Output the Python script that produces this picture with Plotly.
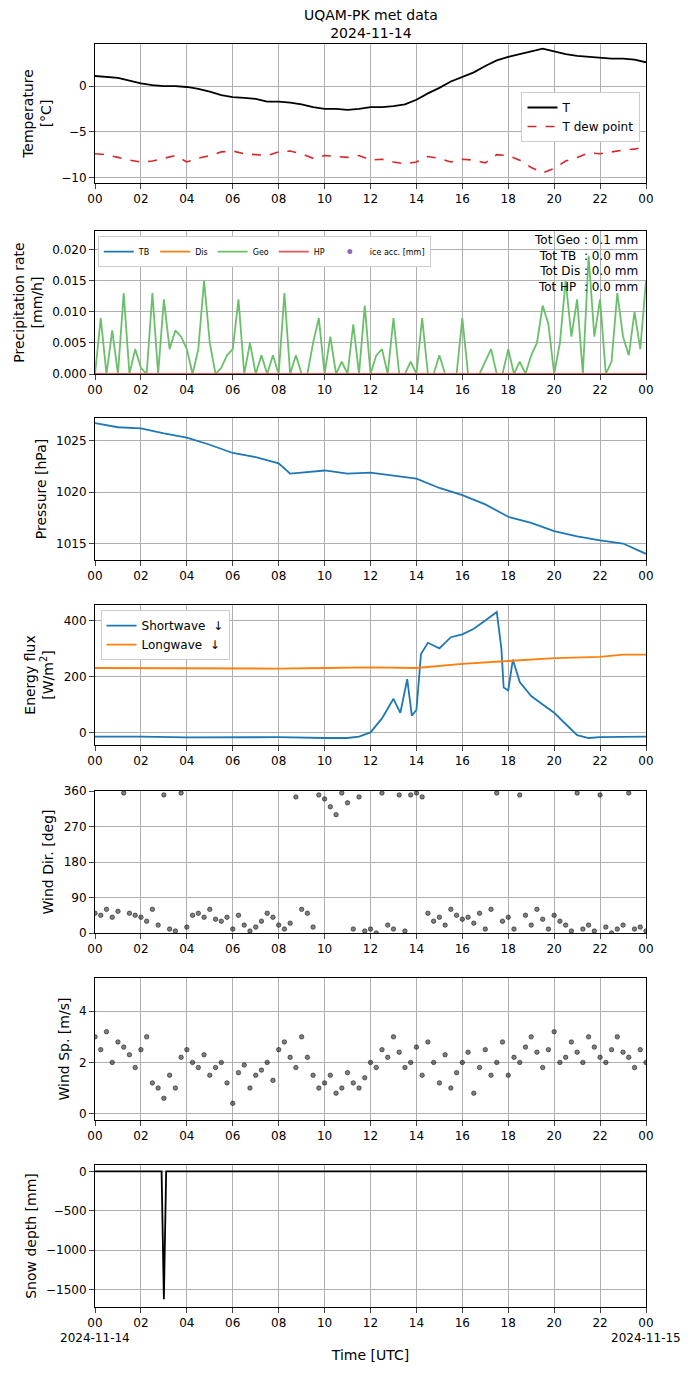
import plotly.graph_objects as go

# ---- data ----
t_half = [i*0.5 for i in range(49)]
temp = [1.1,1.0,0.9,0.6,0.3,0.1,0.0,0.0,-0.1,-0.3,-0.6,-1.0,-1.2,-1.3,-1.4,-1.7,-1.7,-1.8,-2.0,-2.3,-2.5,-2.5,-2.6,-2.5,-2.3,-2.3,-2.2,-2.0,-1.5,-0.8,-0.2,0.5,1.0,1.5,2.2,2.8,3.2,3.5,3.8,4.1,3.8,3.5,3.3,3.2,3.1,3.0,3.0,2.9,2.6]
tdew = [-7.4,-7.5,-7.8,-8.1,-8.3,-8.2,-7.9,-7.6,-8.3,-7.9,-7.6,-7.2,-7.1,-7.4,-7.5,-7.6,-7.2,-7.1,-7.4,-7.9,-7.6,-7.7,-7.8,-7.6,-8.1,-8.0,-8.3,-8.5,-8.3,-7.7,-7.9,-8.3,-8.0,-8.1,-8.4,-7.5,-7.6,-8.1,-8.9,-9.5,-9.0,-8.2,-7.8,-7.3,-7.4,-7.2,-7.0,-6.9,-6.6]

t_q = [i*0.25 for i in range(97)]
geo = [0,0.009,0,0.007,0,0.013,0,0.004,0.001,0,0.013,0,0.012,0.004,0.007,0.006,0.004,0,0.004,0.015,0.005,0,0.001,0.003,0.004,0.012,0,0.005,0,0.003,0,0.003,0,0.013,0,0.003,0,0,0.005,0.009,0,0.006,0,0.002,0,0.008,0,0.011,0,0.003,0.004,0,0.009,0,0,0.002,0,0.009,0,0,0.003,0,0,0,0.009,0,0,0,0.002,0.004,0,0,0.004,0,0.002,0,0.003,0.005,0.011,0.008,0,0.005,0.015,0.006,0.012,0,0.019,0.006,0.012,0,0.002,0.013,0.006,0.003,0.010,0.004,0.015]
zero_q = [0]*97

t_p = [0,1,2,3,4,5,6,7,8,8.5,9,10,11,12,13,14,15,16,17,18,19,20,21,22,23,24]
pres = [1026.7,1026.3,1026.2,1025.7,1025.3,1024.6,1023.8,1023.4,1022.8,1021.8,1021.9,1022.1,1021.8,1021.9,1021.6,1021.3,1020.4,1019.7,1018.8,1017.6,1017.0,1016.2,1015.7,1015.3,1015.0,1014.0]

t_sw = [0,2,4,6,8,10,11,11.5,12,12.5,13,13.3,13.6,13.8,14,14.2,14.5,15,15.5,16,16.5,17,17.5,17.7,17.8,18,18.2,18.5,19,19.5,20,20.5,21,21.5,22,24]
sw = [-15,-15,-18,-17,-17,-20,-20,-15,0,50,120,70,190,60,80,280,320,300,340,350,370,400,430,300,160,150,260,180,130,100,70,30,-10,-20,-17,-15]
t_lw = [0,4,8,10,12,14,16,18,20,22,23,24]
lw = [230,228,228,230,232,230,245,255,265,270,278,278]

wdir = [50,45,60,40,55,355,50,45,40,30,60,20,350,10,5,355,15,45,50,40,60,35,30,40,10,45,20,5,15,30,50,40,20,10,25,345,60,50,15,350,340,320,300,355,330,10,345,5,10,0,355,20,10,350,5,350,355,345,50,30,40,20,60,45,35,40,25,50,10,60,355,30,40,10,350,45,20,60,35,10,45,30,20,5,355,10,20,5,350,15,0,10,20,355,10,15,5]
wsp = [3.0,2.5,3.2,2.0,2.8,2.6,2.3,1.8,2.5,3.0,1.2,1.0,0.6,1.5,1.0,2.2,2.5,2.0,1.8,2.3,1.5,1.8,2.0,1.2,0.4,1.6,1.9,1.0,1.5,1.7,2.0,1.3,2.5,2.8,2.2,1.8,3.0,2.2,1.5,1.0,1.2,1.5,0.8,1.0,1.6,1.2,1.0,1.4,2.0,1.8,2.5,2.2,3.0,2.4,1.8,2.0,2.6,1.5,2.8,2.0,1.2,2.3,1.0,1.6,2.0,2.4,0.8,1.8,2.5,1.5,2.0,2.8,1.5,2.2,2.0,2.6,3.0,2.4,1.8,2.5,3.2,2.0,2.2,2.8,2.4,2.0,3.0,2.6,2.2,2.0,2.5,3.0,2.4,2.2,1.8,2.5,2.0]

t_sd = [0,2.9,3.0,3.1,24]
sd = [0,0,-1620,0,0]

hour_ticks = list(range(0,25,2))
hour_labels = ["00","02","04","06","08","10","12","14","16","18","20","22","00"]

# ---- layout ----
H = 1377; W = 696
OFF = 8  # page body offset
MT, MB = 44 - OFF, 70 + OFF
PH = H - MT - MB
tops = [44,231,418,605,791,978,1165]
bots = [183,374,560,745,933,1120,1307]
def fy(y): return 1 - (y - OFF - MT) / PH
def dom(t,b): return [fy(b), fy(t)]

fig = go.Figure()
blk = "black"
fig.add_trace(go.Scatter(x=t_half,y=temp,mode="lines",line=dict(color=blk,width=1.8),name="T",legend="legend"))
fig.add_trace(go.Scatter(x=t_half,y=tdew,mode="lines",line=dict(color="#d62728",width=1.6,dash="dash"),name="T dew point",legend="legend"))
for nm,c,y in [("TB","#1f77b4",zero_q),("Dis","#ff7f0e",zero_q),("Geo","#6abf69",geo),("HP","#e15759",zero_q)]:
    fig.add_trace(go.Scatter(x=t_q,y=y,mode="lines",line=dict(color=c,width=1.8),name=nm,xaxis="x2",yaxis="y2",legend="legend2"))
fig.add_trace(go.Scatter(x=[None],y=[None],mode="markers",marker=dict(color="#9467bd",size=5),name="ice acc. [mm]",xaxis="x2",yaxis="y2",legend="legend2"))
fig.add_trace(go.Scatter(x=t_p,y=pres,mode="lines",line=dict(color="#1f77b4",width=1.8),showlegend=False,xaxis="x3",yaxis="y3"))
fig.add_trace(go.Scatter(x=t_sw,y=sw,mode="lines",line=dict(color="#1f77b4",width=1.8),name="Shortwave  ↓",xaxis="x4",yaxis="y4",legend="legend4"))
fig.add_trace(go.Scatter(x=t_lw,y=lw,mode="lines",line=dict(color="#ff7f0e",width=1.8),name="Longwave  ↓",xaxis="x4",yaxis="y4",legend="legend4"))
fig.add_trace(go.Scatter(x=t_q,y=wdir,mode="markers",marker=dict(color="rgba(0,0,0,0.5)",size=4.5,line=dict(color="black",width=0.5)),showlegend=False,xaxis="x5",yaxis="y5"))
fig.add_trace(go.Scatter(x=t_q,y=wsp,mode="markers",marker=dict(color="rgba(0,0,0,0.5)",size=4.5,line=dict(color="black",width=0.5)),showlegend=False,xaxis="x6",yaxis="y6"))
fig.add_trace(go.Scatter(x=t_sd,y=sd,mode="lines",line=dict(color=blk,width=1.8),showlegend=False,xaxis="x7",yaxis="y7"))

ax = dict(showline=True,mirror=True,linecolor="black",showgrid=True,gridcolor="#b0b0b0",ticks="outside",zeroline=False,tickfont=dict(size=12,color="black"),automargin=False)
lay = dict(width=W,height=H,plot_bgcolor="white",paper_bgcolor="white",
           margin=dict(l=95-OFF,r=50+OFF,t=MT,b=MB,autoexpand=False),font=dict(family="DejaVu Sans",size=12,color="black"))
ylabels = ["Temperature<br>[°C]","Precipitation rate<br>[mm/h]","Pressure [hPa]","Energy flux<br>[W/m<sup>2</sup>]","Wind Dir. [deg]","Wind Sp. [m/s]","Snow depth [mm]"]
yr = [[-10.6,4.6],[0,0.023],[1013.4,1027.2],[-45,455],[0,360],[-0.25,5.3],[-1720,80]]
ytv = [[-10,-5,0],[0,0.005,0.01,0.015,0.02],[1015,1020,1025],[0,200,400],[0,90,180,270,360],[0,2,4],[-1500,-1000,-500,0]]
ytt = [None,["0.000","0.005","0.010","0.015","0.020"],None,None,None,None,None]
for i in range(7):
    s = "" if i==0 else str(i+1)
    xa = dict(ax,domain=[0,1],range=[0,24],tickvals=hour_ticks,ticktext=hour_labels,anchor="y"+s)
    if i==6: xa["title"]=dict(text="Time [UTC]",standoff=20)
    ya = dict(ax,domain=dom(tops[i],bots[i]),range=yr[i],tickvals=ytv[i],anchor="x"+s,title=dict(text=ylabels[i],standoff=6))
    if ytt[i]: ya["ticktext"]=ytt[i]
    lay["xaxis"+s]=xa; lay["yaxis"+s]=ya
lay["legend"]=dict(x=0.99,y=fy(92),xanchor="right",yanchor="top",bordercolor="#ccc",borderwidth=1,bgcolor="white",font=dict(size=12))
lay["legend2"]=dict(x=0.005,y=fy(tops[1])-0.004,xanchor="left",yanchor="top",orientation="h",bordercolor="#ccc",borderwidth=1,bgcolor="white",font=dict(size=8),itemwidth=30)
lay["legend4"]=dict(x=0.01,y=fy(tops[3])-0.004,xanchor="left",yanchor="top",bordercolor="#ccc",borderwidth=1,bgcolor="white",font=dict(size=12))
fig.update_layout(**lay)
fig.add_annotation(text="UQAM-PK met data<br>2024-11-14",xref="paper",yref="paper",x=0.5,y=1,xanchor="center",yanchor="bottom",yshift=1,showarrow=False,font=dict(size=14))
fig.add_annotation(text="Tot Geo : 0.1 mm<br>Tot TB  : 0.0 mm<br>Tot Dis : 0.0 mm<br>Tot HP  : 0.0 mm",xref="x2 domain",yref="y2 domain",x=0.99,y=1.0,xanchor="right",yanchor="top",showarrow=False,align="right",font=dict(size=12))
for lab,xx in [("2024-11-14",0),("2024-11-15",1)]:
    fig.add_annotation(text=lab,xref="x7 domain",yref="paper",x=xx,y=fy(1338),xanchor="center",yanchor="middle",showarrow=False,font=dict(size=12))
fig.write_html("out.html")
